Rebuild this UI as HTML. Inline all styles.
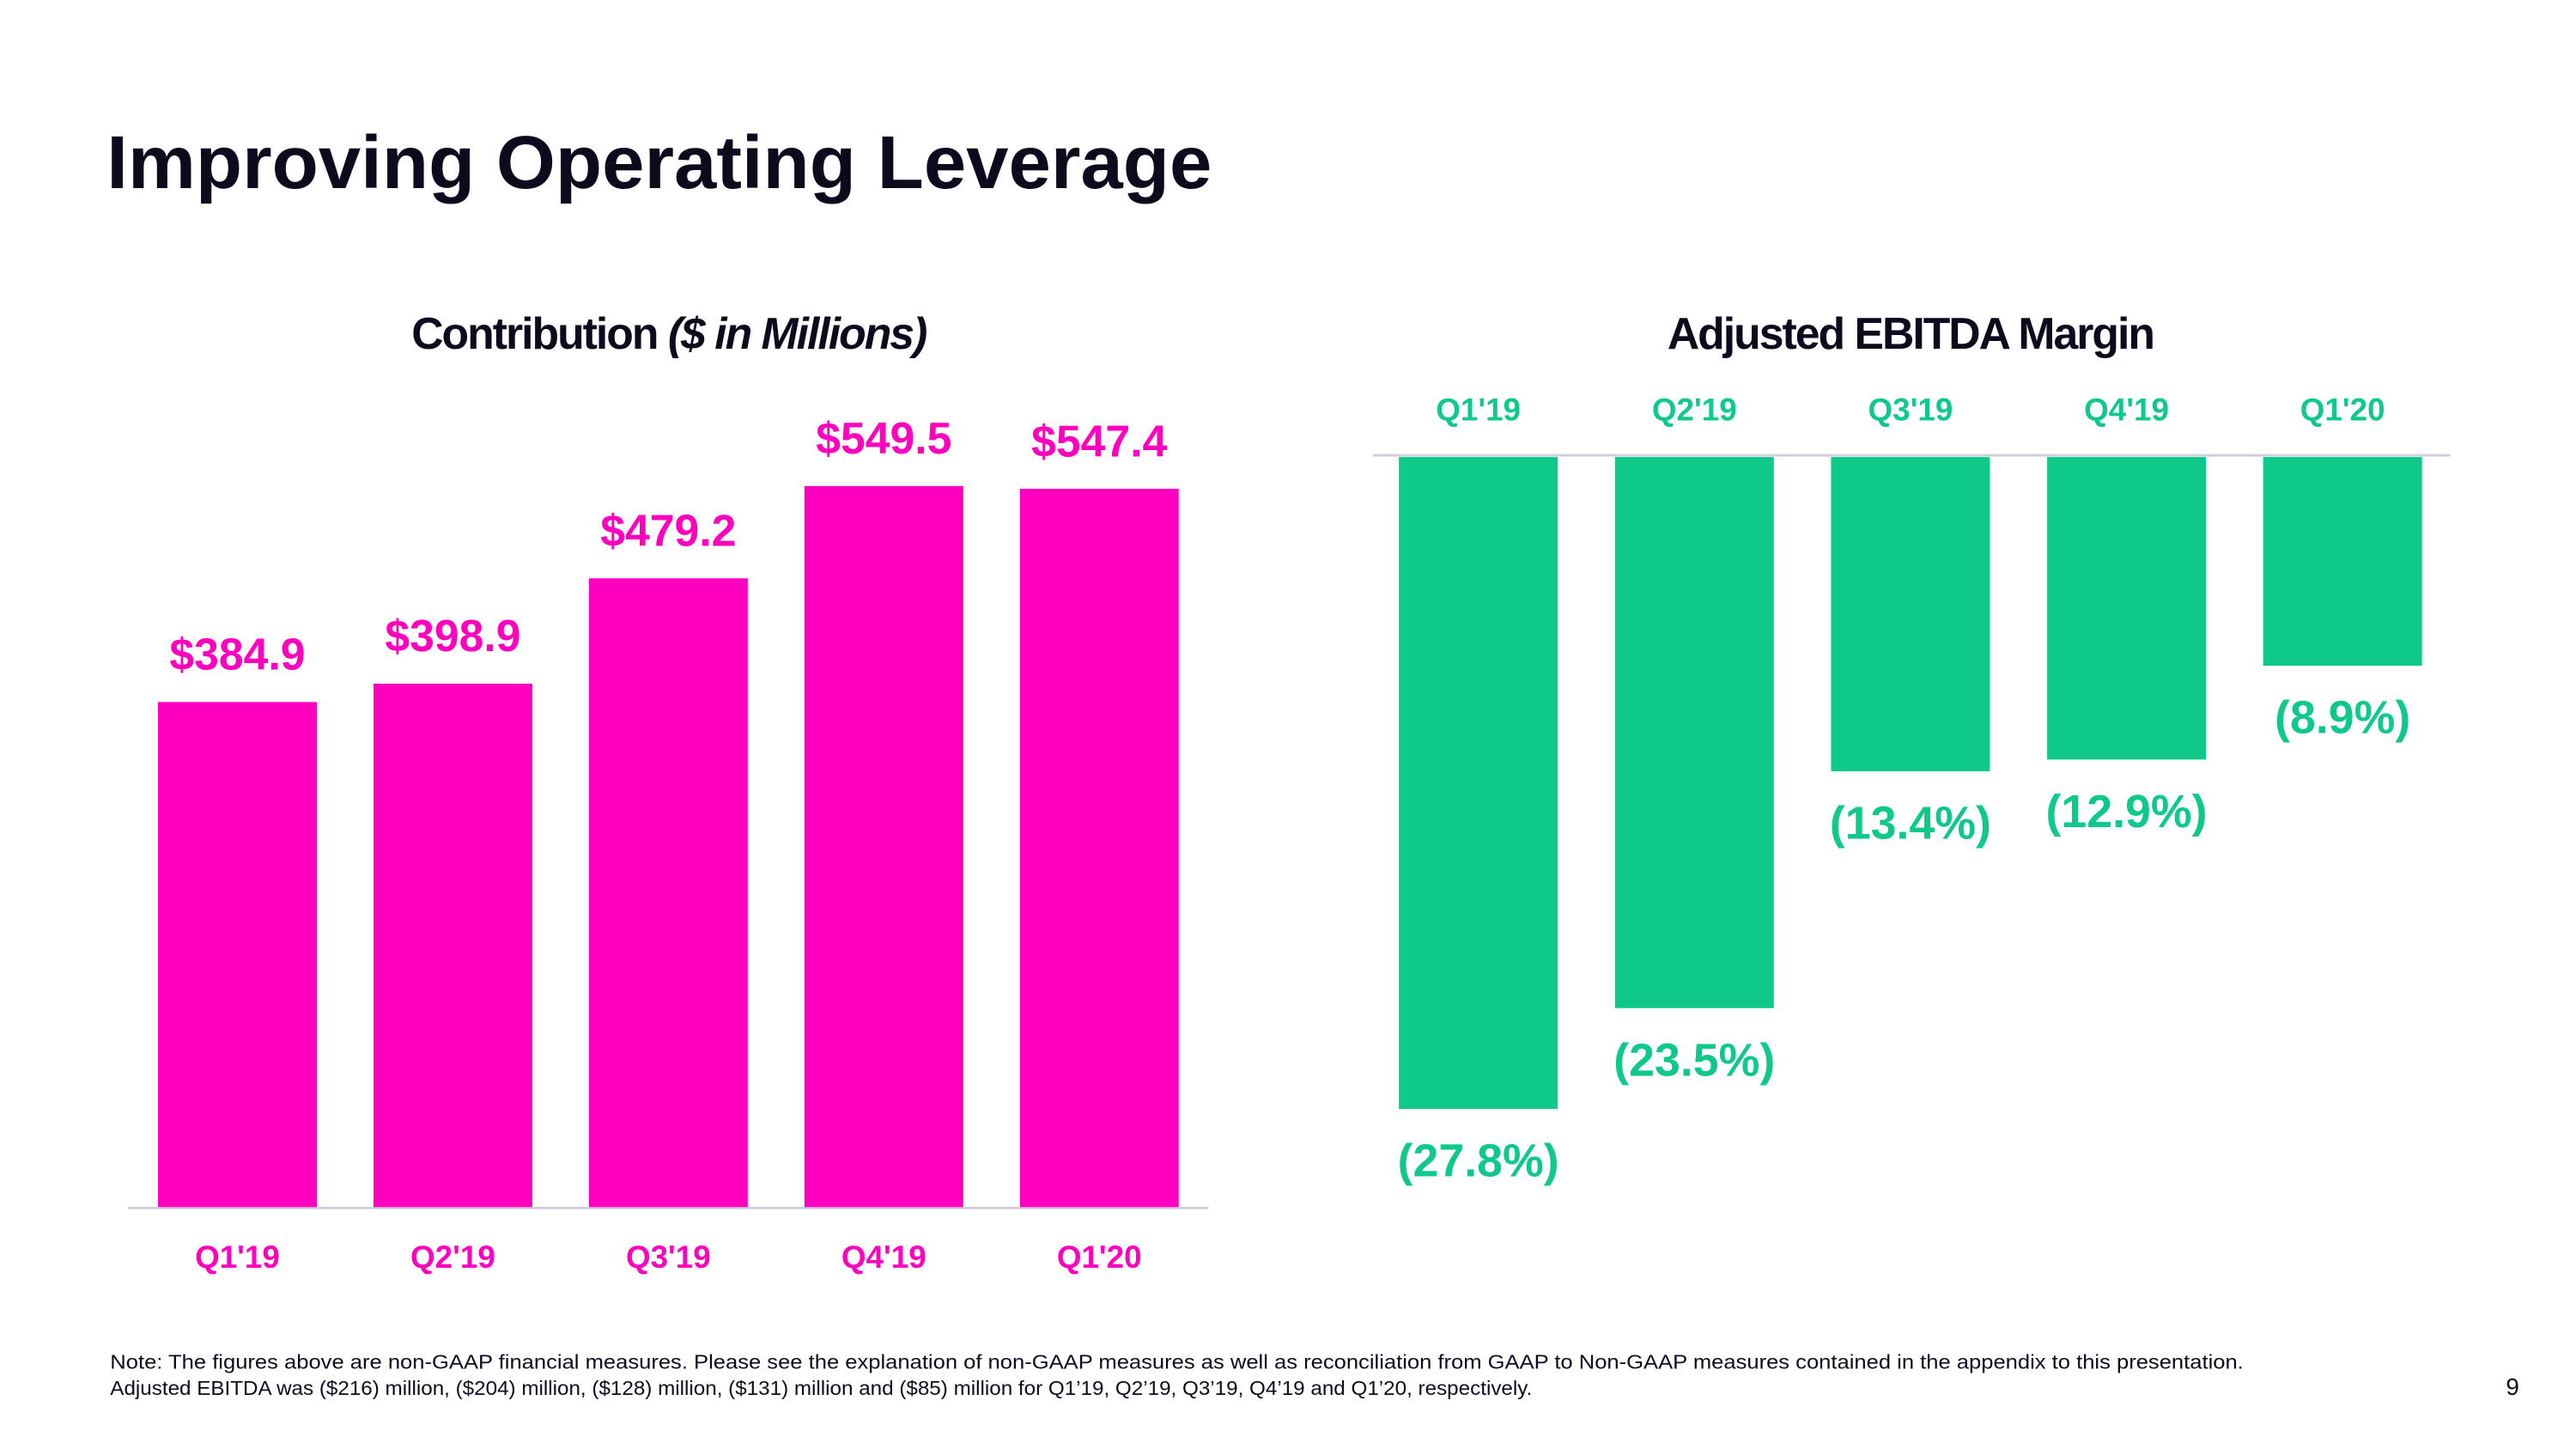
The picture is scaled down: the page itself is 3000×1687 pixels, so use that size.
<!DOCTYPE html>
<html><head><meta charset="utf-8"><style>
html,body{margin:0;padding:0;background:#fff;}
svg{display:block;font-family:"Liberation Sans",sans-serif;}
</style></head><body>
<svg id="c" width="3000" height="1687" viewBox="0 0 3000 1687" xmlns="http://www.w3.org/2000/svg">
<g transform="scale(0.9946)">
<text x="125" y="220" font-size="88" font-weight="bold" fill="#0c0b1e" textLength="1294" lengthAdjust="spacingAndGlyphs">Improving Operating Leverage</text>
<text x="783" y="408" font-size="52" font-weight="bold" fill="#0c0b1e" text-anchor="middle" letter-spacing="-2">Contribution <tspan font-style="italic">($ in Millions)</tspan></text>
<text x="2237" y="408" font-size="52" font-weight="bold" fill="#0c0b1e" text-anchor="middle" letter-spacing="-2">Adjusted EBITDA Margin</text>
<line x1="150" y1="1414" x2="1415" y2="1414" stroke="#d0d0dc" stroke-width="3"/>
<line x1="1608" y1="533" x2="2869" y2="533" stroke="#d0d0dc" stroke-width="3"/>
<g id="left"></g><g id="right"></g>
<text x="129" y="1602" font-size="23" fill="#0c0b1e" textLength="2498" lengthAdjust="spacingAndGlyphs">Note:  The figures above are non-GAAP financial measures.  Please see the explanation of non-GAAP measures as well as reconciliation from GAAP to Non-GAAP measures contained in the appendix to this presentation.</text>
<text x="129" y="1633" font-size="23" fill="#0c0b1e" textLength="1665" lengthAdjust="spacingAndGlyphs">Adjusted EBITDA was ($216) million, ($204) million, ($128) million, ($131) million and ($85) million for Q1’19, Q2’19, Q3’19, Q4’19 and Q1’20, respectively.</text>
<text x="2942" y="1633" font-size="28" fill="#0c0b1e" text-anchor="middle">9</text>
</g>
</svg>
<script>
const categories = ["Q1'19","Q2'19","Q3'19","Q4'19","Q1'20"];
const contribution = [384.9, 398.9, 479.2, 549.5, 547.4];
const contributionLabels = ["$384.9","$398.9","$479.2","$549.5","$547.4"];
const ebitdaMargin = [27.8, 23.5, 13.4, 12.9, 8.9];
const ebitdaLabels = ["(27.8%)","(23.5%)","(13.4%)","(12.9%)","(8.9%)"];

const NS = "http://www.w3.org/2000/svg";
function mk(tag, attrs, parent, txt) {
  const e = document.createElementNS(NS, tag);
  for (const k in attrs) e.setAttribute(k, attrs[k]);
  if (txt !== undefined) e.textContent = txt;
  parent.appendChild(e);
  return e;
}
const lx = i => 185 + i * 252.3;
const ly = v => 1413 - v * 1.536;
const rx = i => 1638 + i * 253;
const ry = v => 535 + v * 27.45;
const BW = 186, MAG = "#ff00bf", GRN = "#0fc98a";
const L = document.getElementById('left'), R = document.getElementById('right');
contribution.forEach((v, i) => {
  const b = mk('rect', {x: lx(i), y: ly(v), width: BW, height: 1413 - ly(v), fill: MAG}, L);
  
  
  const t = mk('text', {x: lx(i) + BW / 2, y: ly(v) - 38, 'font-size': 52, 'font-weight': 'bold', fill: MAG, 'text-anchor': 'middle'}, L, contributionLabels[i]);
  
  
  const c = mk('text', {x: lx(i) + BW / 2, y: 1484, 'font-size': 37, 'font-weight': 'bold', fill: MAG, 'text-anchor': 'middle'}, L, categories[i]);
  
  
});
ebitdaMargin.forEach((v, i) => {
  const b = mk('rect', {x: rx(i), y: 535, width: BW, height: ry(v) - 535, fill: GRN}, R);
  
  
  const t = mk('text', {x: rx(i) + BW / 2, y: ry(v) + 79, 'font-size': 54, 'font-weight': 'bold', fill: GRN, 'text-anchor': 'middle'}, R, ebitdaLabels[i]);
  
  
  const c = mk('text', {x: rx(i) + BW / 2, y: 492, 'font-size': 37, 'font-weight': 'bold', fill: GRN, 'text-anchor': 'middle'}, R, categories[i]);
  
  
});
</script>
</body></html>
